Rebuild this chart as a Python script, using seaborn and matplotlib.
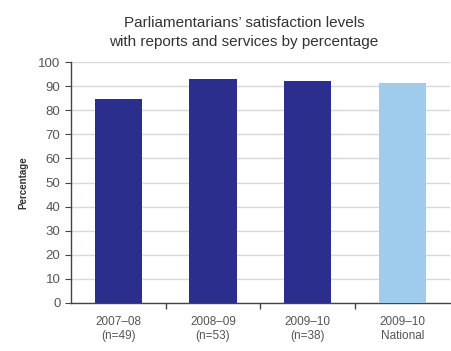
import matplotlib
matplotlib.use("Agg")
import matplotlib.pyplot as plt
import seaborn as sns
import pandas as pd

# data
categories = ["2007\u201308\n(n=49)", "2008\u201309\n(n=53)", "2009\u201310\n(n=38)", "2009\u201310\nNational"]
values = [84.5, 93, 92, 91.5]
bar_colors = ["#2b2e8c", "#2b2e8c", "#2b2e8c", "#9fcbec"]

sns.set_style("white")
plt.rcParams["font.family"] = ["Liberation Sans", "DejaVu Sans"]

df = pd.DataFrame({"period": categories, "pct": values})

fig = plt.figure(figsize=(4.52, 3.51), dpi=100)
ax = fig.add_axes([0.157, 0.137, 0.838, 0.686])

sns.barplot(data=df, x="period", y="pct", hue="period", palette=bar_colors,
            width=0.5, legend=False, ax=ax, saturation=1, linewidth=0, zorder=3)

ax.set_ylim(0, 100)
ax.set_xlim(-0.5, 3.5)
ax.set_yticks(range(0, 101, 10))
ax.yaxis.grid(True, color="#d9d9d9", linewidth=1, zorder=0)
ax.set_axisbelow(True)

for s in ["top", "right"]:
    ax.spines[s].set_visible(False)
for s in ["left", "bottom"]:
    ax.spines[s].set_color("#444444")
    ax.spines[s].set_linewidth(1)

ax.set_xticks([0, 1, 2, 3])
ax.set_xticks([0.5, 1.5, 2.5], minor=True)
ax.tick_params(axis="x", which="major", bottom=False, labelsize=8.5, labelcolor="#555555", pad=6)
ax.tick_params(axis="x", which="minor", bottom=True, length=4, width=1, direction="out", color="#444444")
ax.tick_params(axis="y", length=4, direction="out", color="#444444", labelsize=9.5,
               labelcolor="#555555", left=True)

ax.set_xlabel("")
ax.set_ylabel("Percentage", fontsize=7, fontweight="bold", color="#333333", labelpad=7)

fig.suptitle("Parliamentarians\u2019 satisfaction levels\nwith reports and services by percentage",
             x=0.54, y=0.955, fontsize=11, color="#333333", linespacing=1.5)

fig.savefig("out.png", dpi=100, facecolor="white")
